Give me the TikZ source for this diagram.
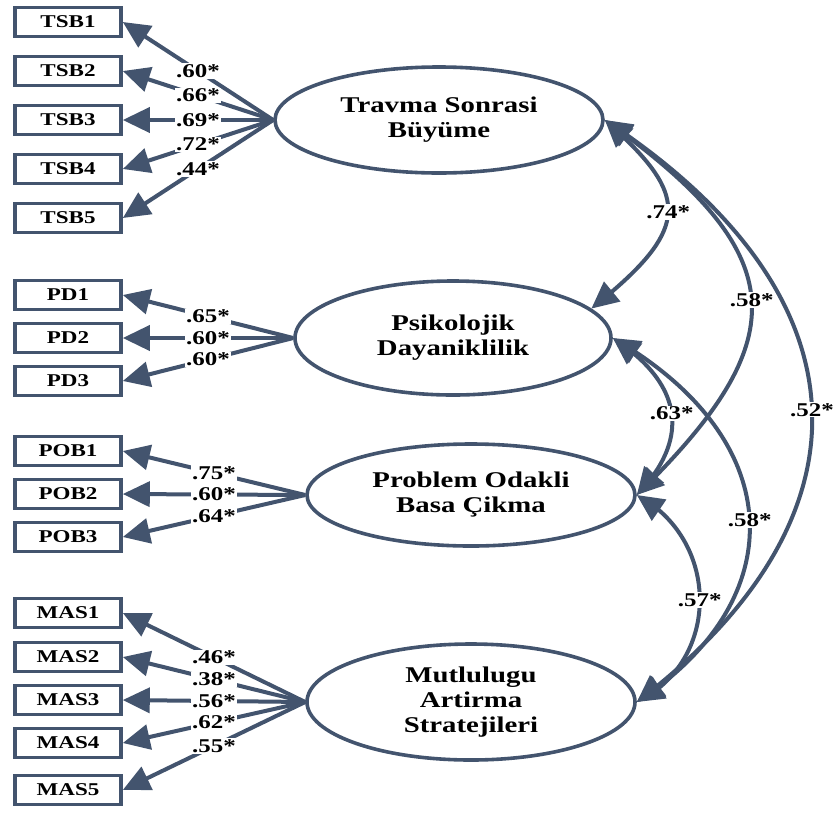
\documentclass[tikz,border=0pt]{standalone}
\usepackage{fontspec}
\setmainfont{Liberation Serif}
\newfontfamily\wideserif[FakeStretch=1.28]{Liberation Serif}
\usetikzlibrary{arrows.meta,bending,shapes.geometric}
\definecolor{ink}{RGB}{67,84,110}
\begin{document}
\begin{tikzpicture}[x=1pt,y=-1pt,
  indicator/.style={draw=ink, line width=3.6pt, minimum width=106pt,
    minimum height=29pt, inner sep=0pt,
    font=\wideserif\bfseries\fontsize{18}{20}\selectfont},
  latent/.style={ellipse, draw=ink, line width=3.6pt, inner sep=0pt,
    align=center, font=\wideserif\bfseries\fontsize{22.5}{25}\selectfont},
  loading/.style={draw=ink, line width=4pt, -{Triangle[length=27pt,width=25pt]}},
  covar/.style={draw=ink, line width=4pt,
    {Triangle[length=27pt,width=25pt]}-{Triangle[length=27pt,width=25pt]}},
  coef/.style={fill=white, inner sep=1pt,
    font=\wideserif\bfseries\fontsize{19.5}{21}\selectfont},
]
\useasboundingbox (0,0) rectangle (835,812);

% latent factors
\node[latent, minimum width=328pt, minimum height=106pt] (T)  at (439,120) {Travma Sonrasi\\Büyüme};
\node[latent, minimum width=316pt, minimum height=114pt] (P)  at (453,338) {Psikolojik\\Dayaniklilik};
\node[latent, minimum width=328pt, minimum height=102pt] (Pr) at (471,495) {Problem Odakli\\Basa Çikma};
\node[latent, minimum width=328pt, minimum height=116pt] (M)  at (471,702) {Mutlulugu\\Artirma\\Stratejileri};

% observed indicators
\foreach \i/\y in {1/22,2/71,3/120,4/169,5/218}
  \node[indicator] (tsb\i) at (68,\y) {TSB\i};
\foreach \i/\y in {1/295,2/338,3/381}
  \node[indicator] (pd\i) at (68,\y) {PD\i};
\foreach \i/\y in {1/451,2/494,3/537}
  \node[indicator] (pob\i) at (68,\y) {POB\i};
\foreach \i/\y in {1/613,2/657,3/700,4/743,5/790}
  \node[indicator] (mas\i) at (68,\y) {MAS\i};

% factor loadings
\foreach \i in {1,...,5} \draw[loading] (T.west) -- (tsb\i.east);
\foreach \i in {1,2,3} \draw[loading] (P.west) -- (pd\i.east);
\foreach \i in {1,2,3} \draw[loading] (Pr.west) -- (pob\i.east);
\foreach \i in {1,...,5} \draw[loading] (M.west) -- (mas\i.east);

\foreach \i/\v in {1/.60*,2/.66*,3/.69*,4/.72*,5/.44*}
  \path (T.west) -- node[coef] {\v} (tsb\i.east);
\foreach \i/\v in {1/.65*,2/.60*,3/.60*}
  \path (P.west) -- node[coef] {\v} (pd\i.east);
\foreach \i/\v in {1/.75*,2/.60*,3/.64*}
  \path (Pr.west) -- node[coef] {\v} (pob\i.east);
\foreach \i/\v in {1/.46*,2/.38*,3/.56*,4/.62*,5/.55*}
  \path (M.west) -- node[coef] {\v} (mas\i.east);

% factor covariances
\draw[covar] (T.east) .. controls +(85,75) and +(102,-81) .. node[coef] {.74*} (P.12);
\draw[covar] (T.east) .. controls +(190,135) and +(159,-155) .. node[coef] {.58*} (Pr.east);
\draw[covar] (T.east) .. controls +(271,178) and +(239,-181) .. node[coef] {.52*} (M.east);
\draw[covar] (P.east) .. controls +(72,47) and +(53,-55) .. node[coef] {.63*} (Pr.east);
\draw[covar] (P.east) .. controls +(177,102) and +(156,-102) .. node[coef] {.58*} (M.east);
\draw[covar] (Pr.east) .. controls +(84,45) and +(84,-41) .. node[coef] {.57*} (M.east);
\end{tikzpicture}
\end{document}
